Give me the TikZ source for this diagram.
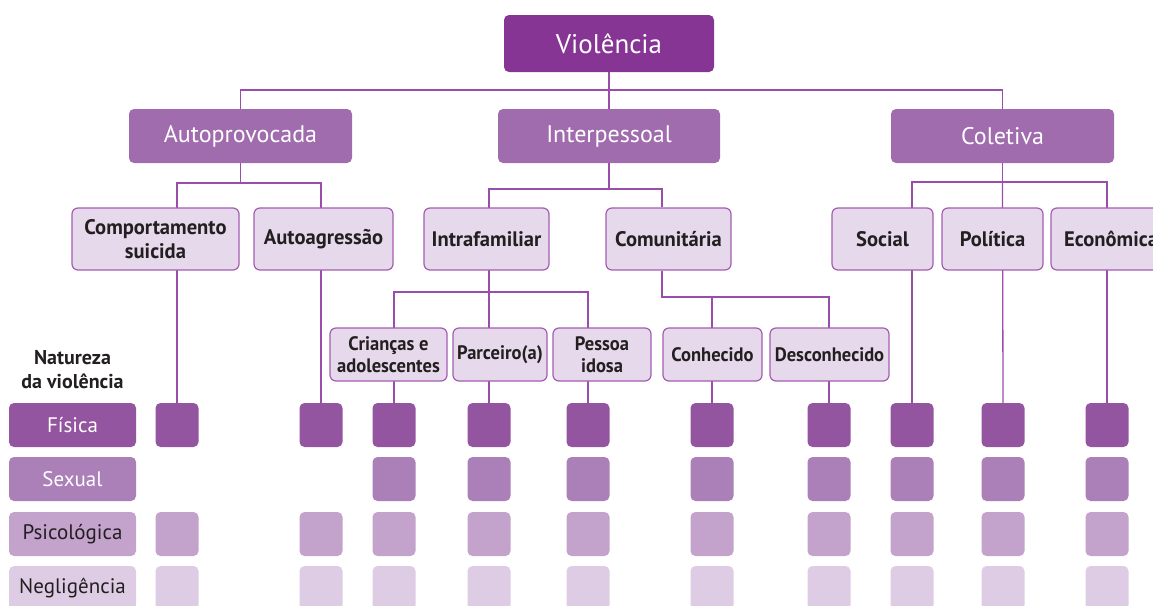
\documentclass[tikz,border=0pt]{standalone}
\usepackage{fontspec}
\setmainfont{PT Sans}
\newfontfamily\condfont[FakeStretch=0.98]{PT Sans}
\newfontfamily\ncondfont[FakeStretch=0.95]{PT Sans}
\usetikzlibrary{backgrounds}
\definecolor{topc}{HTML}{863595}
\definecolor{midc}{HTML}{A06CAE}
\definecolor{subfill}{HTML}{E6D9EC}
\definecolor{subdraw}{HTML}{A45CB2}
\definecolor{linec}{HTML}{9A4DAA}
\definecolor{rowa}{HTML}{93559F}
\definecolor{rowb}{HTML}{AB7FB7}
\definecolor{rowc}{HTML}{C3A2CC}
\definecolor{rowd}{HTML}{DECCE5}
\definecolor{txt}{HTML}{231F20}
\tikzset{
  lnk/.style={draw=linec, line width=1.3pt},
  topbox/.style={rectangle, rounded corners=5pt, fill=topc, text=white, inner sep=0pt,
    font=\fontsize{27}{30}\selectfont, minimum width=210pt, minimum height=57pt},
  midbox/.style={rectangle, rounded corners=5pt, fill=midc, text=white, inner sep=0pt,
    font=\fontsize{24}{28}\selectfont, minimum width=223pt, minimum height=54pt},
  subbox/.style={rectangle, rounded corners=6pt, fill=subfill, draw=subdraw, line width=1.2pt,
    text=txt, inner sep=0pt, align=center, minimum height=62pt,
    font=\condfont\bfseries\fontsize{21}{24}\selectfont},
  leafbox/.style={rectangle, rounded corners=6pt, fill=subfill, draw=subdraw, line width=1.2pt,
    text=txt, inner sep=0pt, align=center, minimum height=53pt,
    font=\ncondfont\bfseries\fontsize{19.5}{22}\selectfont},
  sqbox/.style={rectangle, rounded corners=5pt, inner sep=0pt, minimum width=43pt, minimum height=44pt},
  rowlabel/.style={rectangle, rounded corners=5pt, inner sep=0pt, minimum width=127pt, minimum height=44pt,
    font=\fontsize{21}{24}\selectfont},
  headlabel/.style={align=center, text=txt, inner sep=0pt,
    font=\bfseries\fontsize{20}{24}\selectfont}
}
\begin{document}
\begin{tikzpicture}[x=1pt,y=-1pt]
\clip (0,0) rectangle (1153,605);
\useasboundingbox (0,0) rectangle (1153,605);
% level 1 and 2
\node[topbox] (V) at (609,43.5) {Violência};
\node[midbox] (A) at (240.5,136) {Autoprovocada};
\node[midbox, minimum width=222pt] (I) at (609,136) {Interpessoal};
\node[midbox] (C) at (1002.5,136) {Coletiva};
% level 3
\node[subbox, minimum width=167pt] (CS) at (155.5,239) {Comportamento\\suicida};
\node[subbox, minimum width=139pt] (AA) at (323.5,239) {Autoagressão};
\node[subbox, minimum width=125pt] (IF) at (486.5,239) {Intrafamiliar};
\node[subbox, minimum width=125pt] (CM) at (668.5,239) {Comunitária};
\node[subbox, minimum width=101pt] (SO) at (882.5,239) {Social};
\node[subbox, minimum width=101pt] (PO) at (992.5,239) {Política};
\node[subbox, minimum width=120pt] (EC) at (1111,239) {Econômica};
% level 4
\node[leafbox, minimum width=117pt] (CR) at (388.5,354.5) {Crianças e\\adolescentes};
\node[leafbox, minimum width=94pt] (PA) at (500,354.5) {Parceiro(a)};
\node[leafbox, minimum width=98pt] (PI) at (602,354.5) {Pessoa\\idosa};
\node[leafbox, minimum width=99pt] (CO) at (712.5,354.5) {Conhecido};
\node[leafbox, minimum width=119pt] (DE) at (829.5,354.5) {Desconhecido};
% row labels
\node[headlabel] (NL) at (72.5,370) {Natureza\\da violência};
\node[rowlabel, fill=rowa, text=white] (L1) at (72.5,425) {Física};
\node[rowlabel, fill=rowb, text=white] (L2) at (72.5,479) {Sexual};
\node[rowlabel, fill=rowc, text=txt] (L3) at (72.5,534) {Psicológica};
\node[rowlabel, fill=rowd, text=txt] (L4) at (72.5,588) {Negligência};
% squares
\foreach \c/\x in {1/177,2/321,3/394,4/489,5/588,6/712,7/829,8/912,9/1003,10/1107}{
  \node[sqbox, fill=rowa] (s\c a) at (\x,425) {};
  \node[sqbox, fill=rowc] (s\c c) at (\x,534) {};
  \node[sqbox, fill=rowd] (s\c d) at (\x,588) {};
}
\foreach \c/\x in {3/394,4/489,5/588,6/712,7/829,8/912,9/1003,10/1107}{
  \node[sqbox, fill=rowb] (s\c b) at (\x,479) {};
}
% connectors
\begin{scope}[on background layer]
\draw[lnk] (V.south) -- (I.north);
\draw[lnk] (A.north) |- (C.north |- 0,90) -- (C.north);
% Autoprovocada
\draw[lnk] (A.south) -- (A.south |- 0,183);
\draw[lnk] (s1a.north) -- (s1a.north |- 0,183) -- (s2a.north |- 0,183) -- (s2a.north);
% Interpessoal
\draw[lnk] (I.south) -- (I.south |- 0,189);
\draw[lnk] (s4a.north) -- (s4a.north |- 0,189) -- (662,189) -- (CM.north -| 662,0);
% Intrafamiliar
\draw[lnk] (s3a.north) -- (s3a.north |- 0,292) -- (s5a.north |- 0,292) -- (s5a.north);
% Comunitaria
\draw[lnk] (CM.south -| 662,0) -- (662,297) -- (s7a.north |- 0,297) -- (s7a.north);
\draw[lnk] (s6a.north |- 0,297) -- (s6a.north);
% Coletiva
\draw[lnk] (C.south) -- (C.south |- 0,182);
\draw[lnk] (s8a.north) -- (s8a.north |- 0,182) -- (s10a.north |- 0,182) -- (s10a.north);
\draw[lnk] (C.south |- 0,182) -- (s9a.north);
\end{scope}
\end{tikzpicture}
\end{document}
